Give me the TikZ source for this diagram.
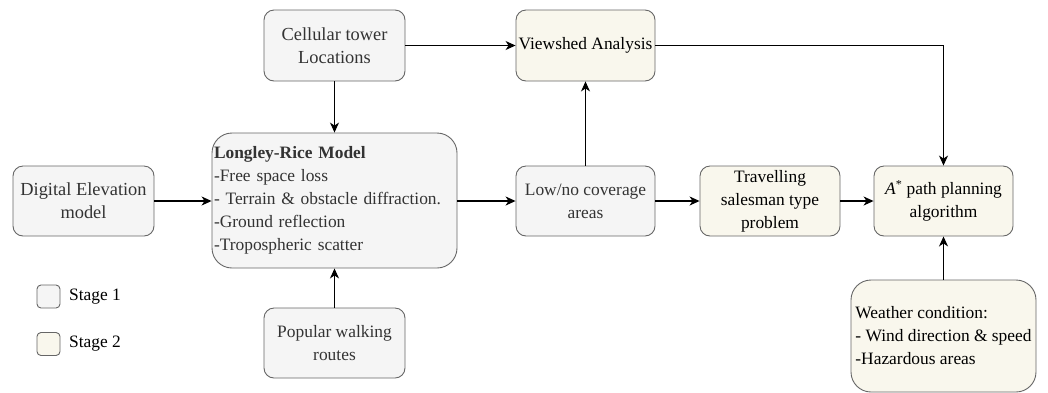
\documentclass[tikz,border=0pt]{standalone}
\usepackage{fontspec}
\setmainfont{Liberation Serif}
\usetikzlibrary{arrows.meta,calc}
\definecolor{sone}{HTML}{F5F5F5}
\definecolor{stwo}{HTML}{F9F7ED}
\definecolor{edge}{HTML}{666666}
\definecolor{txtone}{HTML}{333333}
\tikzset{
  base/.style={draw=edge, line width=0.9pt, rounded corners=10pt, align=center,
    inner sep=2pt, font=\fontsize{17.4}{23}\selectfont},
  bigtext/.style={font=\fontsize{18.4}{23}\selectfont},
  boxone/.style={base, fill=sone, text=txtone},
  boxtwo/.style={base, fill=stwo, text=black},
  conn/.style={line width=1.2pt, -{Stealth[length=10pt,width=9pt,inset=3pt]}},
  legbox/.style={draw=edge, line width=0.9pt, rounded corners=4pt, minimum width=23pt, minimum height=23pt, inner sep=0pt},
  legtxt/.style={anchor=west, inner sep=0pt, font=\fontsize{17.4}{23}\selectfont}
}
\begin{document}
\begin{tikzpicture}[x=1pt,y=-1pt]
\useasboundingbox (0,0) rectangle (1048,392);
\node[boxone, bigtext, minimum width=141pt, minimum height=71pt] (cell) at (334.5,45.5) {Cellular tower\\Locations};
\node[boxtwo, minimum width=139pt, minimum height=71pt] (view) at (585.5,45.5) {Viewshed Analysis};
\node[boxone, minimum width=245pt, minimum height=135pt, text width=241pt, align=left, rounded corners=20pt] (lr) at (334.5,200.5)
  {\textbf{Longley-Rice Model}\\-Free space loss\\- Terrain \& obstacle diffraction.\\-Ground reflection\\-Tropospheric scatter};
\node[boxone, bigtext, minimum width=141pt, minimum height=70pt] (dem) at (83.5,201) {Digital Elevation\\model};
\node[boxone, minimum width=139pt, minimum height=70pt] (low) at (585.5,201) {Low/no coverage\\areas};
\node[boxtwo, minimum width=140pt, minimum height=70pt] (tsp) at (770,201) {Travelling\\salesman type\\problem};
\node[boxtwo, minimum width=139pt, minimum height=70pt] (astar) at (943.5,201) {\textit{A}\textsuperscript{*} path planning\\algorithm};
\node[boxtwo, minimum width=185pt, minimum height=112pt, align=left, rounded corners=20pt] (wx) at (943.5,336)
  {Weather condition:\\- Wind direction \& speed\\-Hazardous areas};
\node[boxone, minimum width=141pt, minimum height=70pt] (walk) at (334.5,343) {Popular walking\\routes};
\node[legbox, fill=sone] (l1) at (48.5,296.5) {};
\node[legbox, fill=stwo] (l2) at (48.5,344) {};
\node[legtxt] (t1) at (69,297) {Stage 1};
\node[legtxt] (t2) at (69,344) {Stage 2};
\draw[conn] (cell.east) -- (cell.east -| view.west);
\draw[conn] (cell.south) -- (lr.north);
\draw[conn] (walk.north) -- (lr.south);
\draw[conn] (dem.east) -- (dem.east -| lr.west);
\draw[conn] (lr.east |- low.west) -- (low.west);
\draw[conn] (low.north) -- (view.south);
\draw[conn] (low.east) -- (tsp.west);
\draw[conn] (tsp.east) -- (astar.west);
\draw[conn] (view.east) -| (astar.north);
\draw[conn] (wx.north) -- (astar.south);
\end{tikzpicture}
\end{document}
